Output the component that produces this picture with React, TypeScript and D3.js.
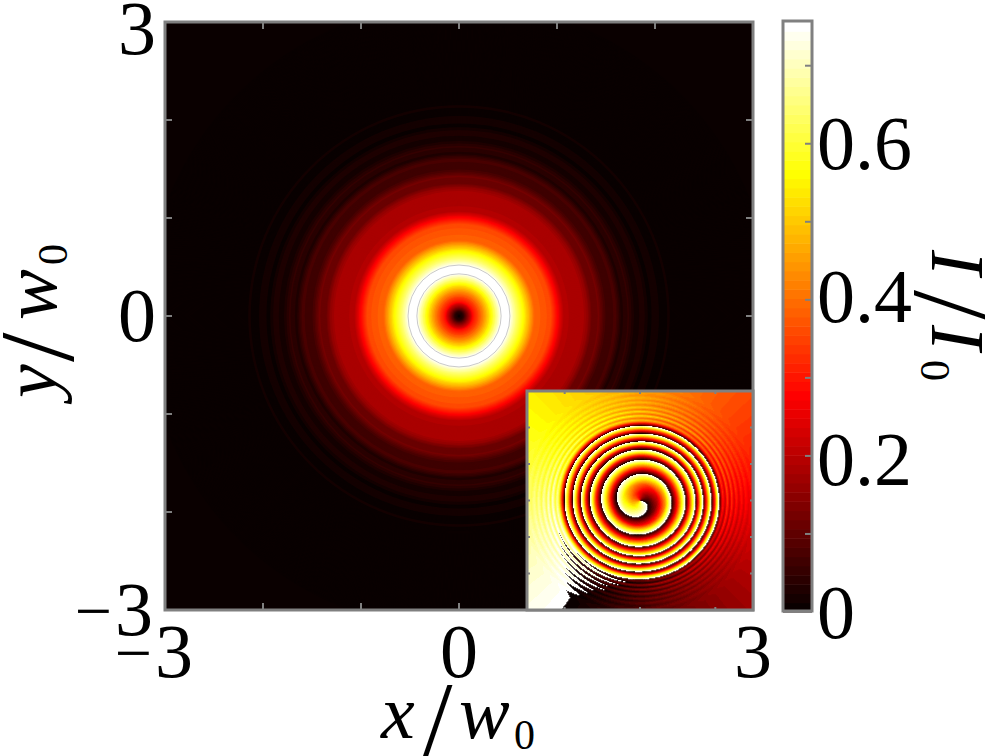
import React from 'react';
import * as d3 from 'd3';

const W = 987;
const H = 756;

// radial intensity (r in x/w0, I in I/I0)
const profileR = [0, 0.05, 0.1, 0.15, 0.2, 0.25, 0.33, 0.43, 0.52, 0.59, 0.66, 0.72, 0.77, 0.87, 0.94, 0.99, 1.02, 1.07, 1.14, 1.27, 1.31, 1.36, 1.43, 1.51, 1.6, 1.66, 1.73, 1.81, 1.87, 1.94, 2.01, 2.07, 2.14, 2.21, 3.2];
const profileI = [0, 0.05, 0.17, 0.3, 0.36, 0.43, 0.56, 0.745, 0.745, 0.64, 0.56, 0.47, 0.39, 0.37, 0.36, 0.3, 0.26, 0.2, 0.185, 0.18, 0.16, 0.11, 0.12, 0.06, 0.075, 0.03, 0.05, 0.012, 0.035, 0.006, 0.022, 0.003, 0.014, 0, 0];
const contourR = [0.43, 0.52];

// inset: unwrapped radial phase in turns, read from the spiral crossings
const phaseR = [0, 0.22, 0.46, 0.68, 0.84, 1.03, 1.22, 1.35, 1.49, 1.59, 1.7, 1.81, 1.92, 2.03, 2.11, 2.2, 2.24, 2.3, 2.36, 2.42, 2.48, 2.54, 2.6, 2.67, 2.74, 2.8, 2.86, 2.94, 3.02, 3.1, 3.2, 3.3, 5];
const phaseG = [0.68, 0.74, 0.92, 1.25, 1.65, 2.11, 2.65, 3.15, 3.65, 4.13, 4.65, 5.13, 5.65, 6.1, 6.55, 6.93, 7.05, 6.92, 7.1, 6.93, 7.08, 6.95, 7.06, 6.96, 7.04, 6.97, 7.03, 6.98, 7.02, 6.99, 7.01, 7.0, 7.0];
const branchDeg = 235;

const mainTicks = [-2, -1, 0, 1, 2];
const insetXTicks = [-2, 0, 2];
const insetYTicks = [-2, -1, 0, 1, 2];
const barTicks = [0.1, 0.2, 0.3, 0.4, 0.5, 0.6, 0.7];
const barLabels = ['0', '0.2', '0.4', '0.6'];
const barLabelValues = [0, 0.2, 0.4, 0.6];
const barLabelShift = [26, 29, 22, 25];
const barMax = 0.756;

const hotStops = [0, 0.365, 0.746, 1];
const hotColors = ['#0a0000', '#ff0000', '#ffff00', '#ffffff'];
const LEVELS = 64;

const hotRaw = d3.scaleLinear<string>().domain(hotStops).range(hotColors).clamp(true);
const hot = (t: number) => {
    const k = Math.min(LEVELS - 1, Math.max(0, Math.floor(t * LEVELS)));
    return hotRaw(k / (LEVELS - 1));
};

const x = d3.scaleLinear().domain([-3, 3]).range([165, 753]);
const y = d3.scaleLinear().domain([-3, 3]).range([610, 22]);
const ix = d3.scaleLinear().domain([-3, 3]).range([527, 753]);
const iy = d3.scaleLinear().domain([-3, 3]).range([610, 391]);
const barY = d3.scaleLinear().domain([0, barMax]).range([612, 22]);
const profile = d3.scaleLinear().domain(profileR).range(profileI).clamp(true);
const phase = d3.scaleLinear().domain(phaseR).range(phaseG).clamp(true);

const GREY = '#808080';
const SERIF = '"Liberation Serif", serif';

// one path per colour level, the cells are 1px
function insetPaths() {
    const levels: string[] = d3.range(LEVELS).map(() => '');
    const u = (ix.range()[1] - ix.range()[0]) / 6;
    for (let py = iy.range()[1]; py < iy.range()[0]; py++) {
        for (let px = ix.range()[0]; px < ix.range()[1]; px++) {
            const dx = ix.invert(px + 0.5);
            const dy = iy.invert(py + 0.5);
            const r = Math.hypot(dx, dy) * (u / 37);
            const deg = (Math.atan2(dy, dx) * 180) / Math.PI;
            let p = deg / 360 + phase(r) - branchDeg / 360;
            p = p - Math.floor(p);
            const k = Math.min(LEVELS - 1, Math.floor(p * LEVELS));
            levels[k] += `M${px} ${py}h1.3v1.3h-1.3z`;
        }
    }
    return levels;
}

const Ticks = ({ sx, sy, xt, yt, len }: any) => {
    const [l, r] = sx.range();
    const [b, t] = sy.range();
    return (
        <g stroke={GREY} strokeWidth={2}>
            {xt.map((d: number) => (
                <g key={d}>
                    <line x1={sx(d)} x2={sx(d)} y1={t} y2={t + len} />
                    <line x1={sx(d)} x2={sx(d)} y1={b} y2={b - len} />
                </g>
            ))}
            {yt.map((d: number) => (
                <g key={d}>
                    <line x1={l} x2={l + len} y1={sy(d)} y2={sy(d)} />
                    <line x1={r} x2={r - len} y1={sy(d)} y2={sy(d)} />
                </g>
            ))}
        </g>
    );
};

const Num = ({ x, y, size = 76, anchor = 'middle', children }: any) => (
    <text x={x} y={y} fontFamily={SERIF} fontSize={size} textAnchor={anchor} fill="#000">{children}</text>
);

const Neg = ({ x, y, children }: any) => (
    <text x={x} y={y} fontFamily={SERIF} fontSize={76} textAnchor="end" fill="#000">
        <tspan fontSize={66} dy={-2}>−</tspan>
        <tspan dx={3} dy={2}>{children}</tspan>
    </text>
);

// x/w0 style label, laid out horizontally, the caller rotates it
const Ratio = ({ a, b, bx, slashX, subX }: any) => (
    <g fontFamily={SERIF} fill="#000">
        <text x={0} y={0} fontSize={76} fontStyle="italic">{a}</text>
        <text x={slashX} y={17} fontSize={106}>/</text>
        <text x={bx} y={0} fontSize={76} fontStyle="italic">{b}</text>
        <text x={subX} y={11} fontSize={42}>0</text>
    </g>
);

export default function App() {
    const radii = d3.range(3.2, 0, -0.005);
    const levels = insetPaths();
    const barLevels = d3.range(LEVELS);
    return (
        <svg width={W} height={H} style={{ position: 'absolute', left: 0, top: 0 }}>
            <defs>
                <clipPath id="plot"><rect x={165} y={22} width={588} height={588} /></clipPath>
                <filter id="soft" x="0" y="0" width="1" height="1" colorInterpolationFilters="sRGB">
                    <feGaussianBlur stdDeviation="0.55" />
                </filter>
            </defs>
            <rect width={W} height={H} fill="#fff" />

            <g clipPath="url(#plot)">
                <rect x={165} y={22} width={588} height={588} fill={hot(0)} />
                {radii.map((r) => (
                    <circle key={r} cx={x(0)} cy={y(0)} r={x(r) - x(0)} fill={hot(profile(r) / barMax)} />
                ))}
                {contourR.map((r) => (
                    <circle key={r} cx={x(0)} cy={y(0)} r={x(r) - x(0)} fill="none" stroke="#bdbdbd" strokeWidth={0.8} />
                ))}
            </g>
            <Ticks sx={x} sy={y} xt={mainTicks} yt={mainTicks} len={7} />
            <rect x={165} y={22} width={588} height={588} fill="none" stroke={GREY} strokeWidth={3} />

            <g filter="url(#soft)">
                {levels.map((d, k) => (
                    <path key={k} d={d} fill={hot(k / LEVELS)} />
                ))}
            </g>
            <Ticks sx={ix} sy={iy} xt={insetXTicks} yt={insetYTicks} len={3} />
            <rect x={527} y={391} width={226} height={219} fill="none" stroke={GREY} strokeWidth={3} />

            {barLevels.map((k) => (
                <rect key={k} x={783} width={29}
                    y={barY((barMax * (k + 1)) / LEVELS)}
                    height={barY(0) - barY(barMax / LEVELS) + 0.5}
                    fill={hot(k / LEVELS)} />
            ))}
            {barTicks.map((d) => (
                <line key={d} x1={805} x2={812} y1={barY(d)} y2={barY(d)} stroke={GREY} strokeWidth={2} />
            ))}
            <rect x={783} y={21} width={29} height={590} fill="none" stroke={GREY} strokeWidth={3} />

            {barLabels.map((t, i) => (
                <Num key={t} x={817} y={barY(barLabelValues[i]) + barLabelShift[i]} anchor="start">{t}</Num>
            ))}

            <Num x={137} y={54}>3</Num>
            <Num x={137} y={341}>0</Num>
            <Neg x={153} y={635}>3</Neg>
            <Neg x={193} y={677}>3</Neg>
            <Num x={459} y={677}>0</Num>
            <Num x={753} y={677}>3</Num>

            <g transform="translate(381,738)">
                <Ratio a="x" slashX={42} b="w" bx={78} subX={133} />
            </g>
            <g transform="translate(56,398) rotate(-90)">
                <Ratio a="y" slashX={36} b="w" bx={78} subX={133} />
            </g>
            <g transform="translate(932,250) rotate(90)">
                <Ratio a="I" slashX={40} b="I" bx={75} subX={110} />
            </g>
        </svg>
    );
}
